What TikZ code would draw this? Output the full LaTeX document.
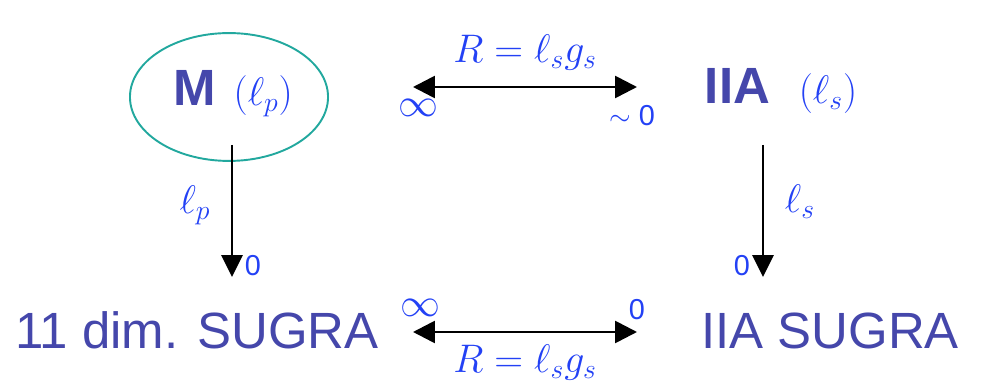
\documentclass[tikz,border=0pt]{standalone}
\usepackage{fontspec}
\setsansfont{Liberation Sans}
\usepackage{xcolor}
\usepackage{tikz}
\usetikzlibrary{arrows.meta,positioning,shapes.geometric}
\definecolor{txtc}{HTML}{4547AB}
\definecolor{mathc}{HTML}{2341F5}
\definecolor{ringc}{HTML}{22A89E}
\tikzset{
  ar/.style={{Triangle[length=11.4pt,width=11.4pt]}-{Triangle[length=11.4pt,width=11.4pt]},line width=1.4pt,black},
  dn/.style={-{Triangle[length=11.4pt,width=11pt]},line width=1.4pt,black},
  big/.style={font=\sffamily\fontsize{26.5}{31}\selectfont,text=txtc,inner sep=0pt},
  mth/.style={font=\fontsize{20.74}{24}\selectfont,text=mathc,inner sep=0pt},
  lim/.style={font=\sffamily\fontsize{15}{17}\selectfont,text=mathc,inner sep=0pt},
  ring/.style={draw=ringc,line width=1pt,ellipse,minimum width=103pt,minimum height=66.5pt,inner sep=0pt}
}

\begin{document}
\begin{tikzpicture}[x=0.52pt,y=-0.52pt]
\useasboundingbox (0,0) rectangle (985,385);
\node[ring] (mring) at (229,97) {};
\node[big,anchor=base] (mth) at (233,106) {\bfseries M\hspace{9.4pt}{\color{mathc}\fontsize{20.74}{24}\selectfont$(\ell_p)$}};
\node[big,anchor=base] (iia) at (781,104) {\bfseries IIA\hspace{15pt}{\color{mathc}\fontsize{20.74}{24}\selectfont$(\ell_s)$}};
\node[big,anchor=base] (sugra) at (197,349) {11 dim. SUGRA};
\node[big,anchor=base] (iiasugra) at (830,349) {IIA SUGRA};
\coordinate (tl) at (413,87);
\coordinate (tr) at (637,87);
\coordinate (bl) at (413,332);
\coordinate (br) at (637,332);
\coordinate (lt) at (232,145);
\coordinate (lb) at (232,277);
\coordinate (rt) at (763,145);
\coordinate (rb) at (763,277);
\draw[ar] (tl) -- (tr) node[midway,above=8pt,mth] (rtop) {$R=\ell_sg_s$};
\draw[ar] (bl) -- (br) node[midway,below=6pt,mth] (rbot) {$R=\ell_sg_s$};
\draw[dn] (lt) -- (lb);
\draw[dn] (rt) -- (rb);
\node[mth] (inft) at (418,108) {$\infty$};
\node[lim] (zt) at (632,116) {$\sim$ 0};
\node[mth] (infb) at (420,308) {$\infty$};
\node[lim] (zb) at (637,310) {0};
\node[mth] (lp) at (195,205) {$\ell_p$};
\node[mth] (ls) at (800,202) {$\ell_s$};
\node[lim] (zl) at (253,266) {0};
\node[lim] (zr) at (742,266) {0};
\end{tikzpicture}
\end{document}
